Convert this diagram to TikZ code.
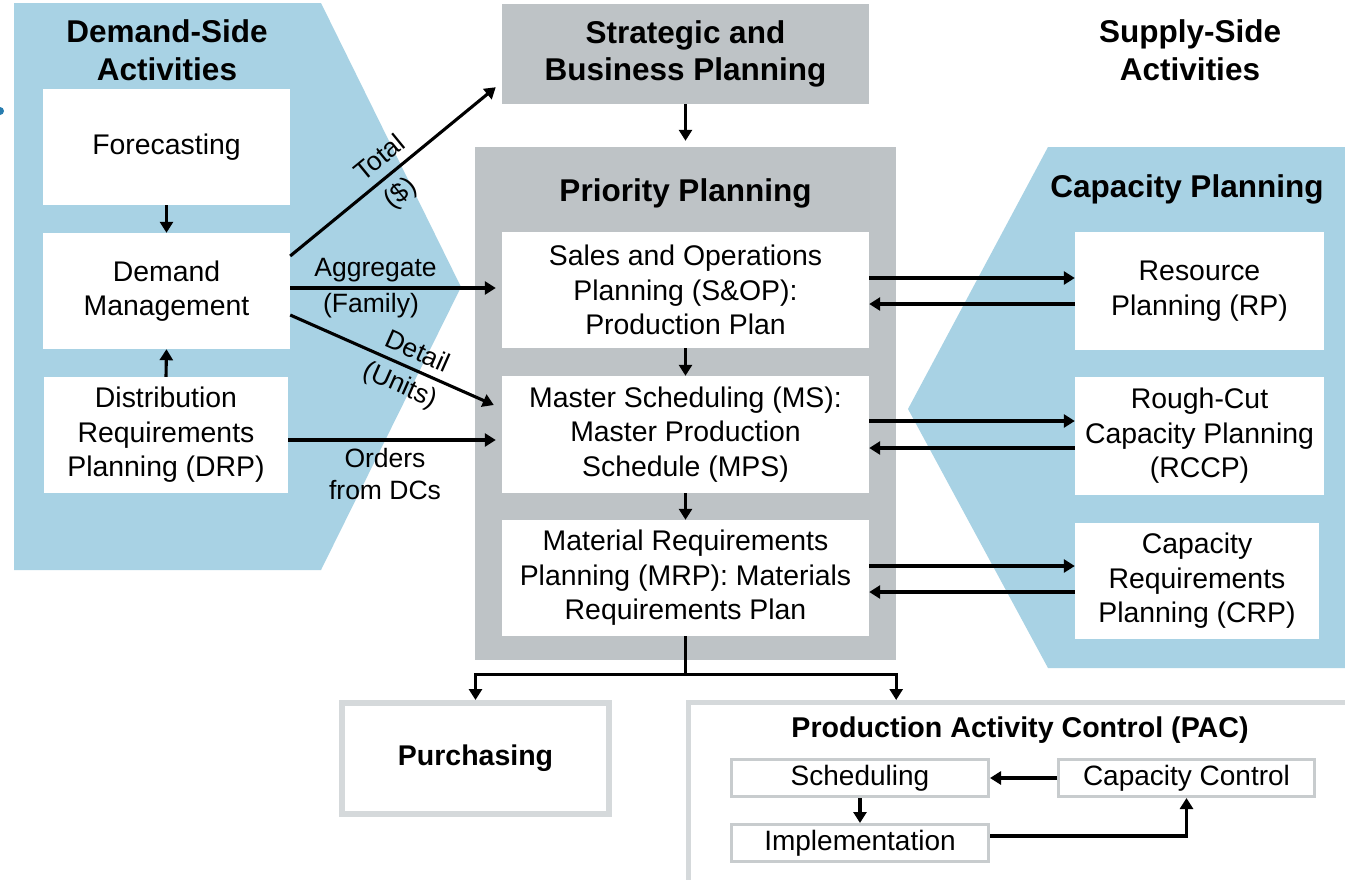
\documentclass[tikz,border=0pt]{standalone}
\usepackage{fontspec}
\setmainfont{Liberation Sans}
\usetikzlibrary{arrows.meta}
\definecolor{bluebg}{RGB}{168,210,228}
\definecolor{graybg}{RGB}{190,195,198}
\definecolor{lightgr}{RGB}{213,217,219}
\definecolor{boxgr}{RGB}{200,204,206}
\definecolor{dotblue}{RGB}{40,125,175}
\begin{document}
\begin{tikzpicture}[x=1pt,y=-1pt,
  arr/.style={line width=3.1pt, -{Triangle[length=11pt,width=13pt]}},
  conn/.style={line width=3.1pt},
  wbox/.style={fill=white, inner sep=0pt, align=center, font=\fontsize{28.4}{34.5}\selectfont},
  ttl/.style={align=center, inner sep=0pt, font=\fontsize{31.5}{37.5}\selectfont\bfseries},
  lbl/.style={font=\fontsize{26.5}{32}\selectfont, inner sep=0pt},
  sbox/.style={draw=boxgr, line width=3pt, fill=white, inner sep=0pt, font=\fontsize{28}{34}\selectfont},
]
\clip (0,0) rectangle (1345,879);
\fill[white] (0,0) rectangle (1345,879);
\fill[dotblue] (0,111) circle (4);

% blue backgrounds
\fill[bluebg] (14,3) -- (321,3) -- (461,287) -- (321,570) -- (14,570) -- cycle;
\fill[bluebg] (1048,147) -- (1360,147) -- (1360,668) -- (1048,668) -- (908,409) -- cycle;

% titles
\node[ttl] (dtitle) at (167,50) {Demand-Side\\Activities};
\node[ttl] (stitle) at (1190,50) {Supply-Side\\Activities};

% demand side boxes
\node[wbox, minimum width=247, minimum height=116] (fc) at (166.5,147) {Forecasting};
\node[wbox, minimum width=247, minimum height=116] (dm) at (166.5,291) {Demand\\Management};
\node[wbox, minimum width=244, minimum height=116] (drp) at (166,435) {Distribution\\Requirements\\Planning (DRP)};

% center column
\node[fill=graybg, inner sep=0pt, minimum width=367, minimum height=100, ttl] (strat) at (685.5,54) {Strategic and\\Business Planning};
\node[fill=graybg, inner sep=0pt, minimum width=421, minimum height=513] (prio) at (685.5,403.5) {};
\node[ttl] (ptitle) at (685.5,193) {Priority Planning};
\node[wbox, minimum width=367, minimum height=116] (sop) at (685.5,290) {Sales and Operations\\Planning (S\&OP):\\Production Plan};
\node[wbox, minimum width=367, minimum height=117] (ms) at (685.5,434.5) {Master Scheduling (MS):\\Master Production\\Schedule (MPS)};
\node[wbox, minimum width=367, minimum height=116] (mrp) at (685.5,578) {Material Requirements\\Planning (MRP): Materials\\Requirements Plan};

% capacity planning
\node[ttl] (ctitle) at (1187,189) {Capacity Planning};
\node[wbox, minimum width=249, minimum height=118] (rp) at (1199.5,291) {Resource\\Planning (RP)};
\node[wbox, minimum width=249, minimum height=118] (rccp) at (1199.5,436) {Rough-Cut\\Capacity Planning\\(RCCP)};
\node[wbox, minimum width=244, minimum height=116] (crp) at (1197,581) {Capacity\\Requirements\\Planning (CRP)};

% bottom
\node[draw=lightgr, line width=6pt, fill=white, minimum width=267, minimum height=111, inner sep=0pt,
      font=\fontsize{28.5}{34}\selectfont\bfseries] (purch) at (475.5,758.5) {Purchasing};
\node[draw=lightgr, line width=5pt, fill=white, minimum width=700, minimum height=200, inner sep=0pt,
      anchor=north west] (pac) at (686,700) {};
\node[inner sep=0pt, font=\fontsize{28.6}{34}\selectfont\bfseries] (pactitle) at (1020,730) {Production Activity Control (PAC)};
\node[sbox, minimum width=257, minimum height=37] (sched) at (860,778) {Scheduling};
\node[sbox, minimum width=257, minimum height=37] (impl) at (860,843) {Implementation};
\node[sbox, minimum width=256, minimum height=37] (cc) at (1186.5,778) {Capacity Control};

% demand side arrows
\draw[arr] (fc.south) -- (dm.north);
\draw[arr] (drp.north) -- (dm.south);
\draw[arr] ([yshift=35pt]dm.east) -- ([xshift=-6pt,yshift=17pt]strat.south west);
\draw[arr] ([yshift=3pt]dm.east) -- ([xshift=-6pt,yshift=3pt]dm.east -| sop.west);
\draw[arr] ([yshift=-24pt]dm.east) -- ([xshift=-8pt,yshift=29.5pt]ms.west);
\draw[arr] ([yshift=-5pt]drp.east) -- ([xshift=-6pt,yshift=-5pt]drp.east -| ms.west);

% connector labels
\node[lbl, rotate=39.3] (ltotal) at (379,157) {Total};
\node[lbl, rotate=39.3] (ldollar) at (401,194) {(\$)};
\node[lbl] (lagg) at (375.5,270) {Aggregate};
\node[lbl] (lfam) at (371,306) {(Family)};
\node[lbl, rotate=-23.9] (ldet) at (418,351) {Detail};
\node[lbl, rotate=-23.9] (lunits) at (400,386) {(Units)};
\node[lbl, align=center] (lord) at (385,474) {Orders\\from DCs};

% center arrows
\draw[arr, shorten >=6pt] (strat.south) -- (prio.north);
\draw[arr] (sop.south) -- (ms.north);
\draw[arr] (ms.south) -- (mrp.north);
\draw[conn] (mrp.south) -- ++(0,38) coordinate (split);
\draw[arr] (split) -| (purch.north);
\draw[arr] (split) -| (prio.east |- pac.north);

% capacity arrows
\draw[arr] ([yshift=12pt]sop.east) -- ([yshift=12pt]sop.east -| rp.west);
\draw[arr] ([yshift=-14pt]sop.east -| rp.west) -- ([yshift=-14pt]sop.east);
\draw[arr] ([yshift=13.5pt]ms.east) -- ([yshift=13.5pt]ms.east -| rccp.west);
\draw[arr] ([yshift=-13.5pt]ms.east -| rccp.west) -- ([yshift=-13.5pt]ms.east);
\draw[arr] ([yshift=12pt]mrp.east) -- ([yshift=12pt]mrp.east -| crp.west);
\draw[arr] ([yshift=-14pt]mrp.east -| crp.west) -- ([yshift=-14pt]mrp.east);

% PAC arrows
\draw[arr] (cc.west) -- (sched.east);
\draw[arr] (sched.south) -- (impl.north);
\draw[arr] ([yshift=7pt]impl.east) -| (cc.south);
\end{tikzpicture}
\end{document}
